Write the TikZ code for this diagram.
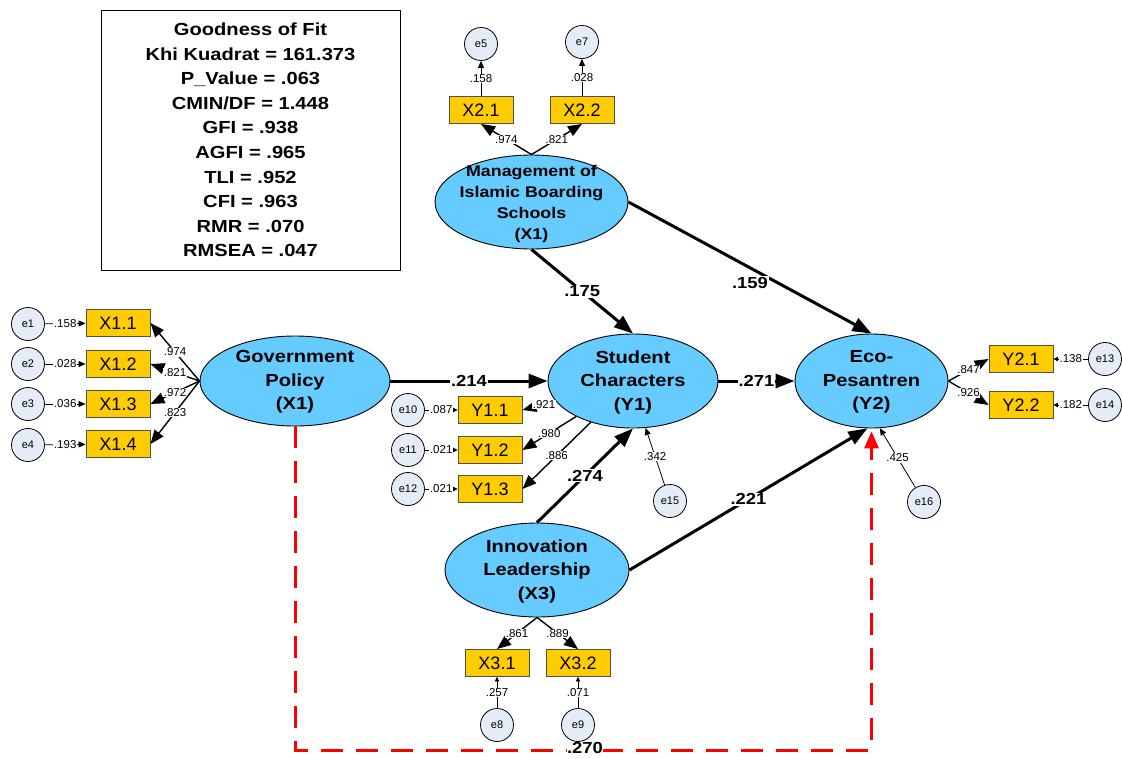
\documentclass[tikz,border=0pt]{standalone}
\usepackage{fontspec}
\setmainfont{Liberation Sans}
\newfontfamily\widefont[FakeStretch=1.15]{Liberation Sans}
\usetikzlibrary{shapes.geometric,arrows.meta,calc}
\definecolor{latentfill}{HTML}{66CCFF}
\definecolor{obsfill}{HTML}{FFCC00}
\definecolor{errfill}{HTML}{E6ECF7}
\definecolor{obsline}{HTML}{505050}
\definecolor{dashred}{HTML}{FF0000}
\begin{document}
\begin{tikzpicture}[x=1pt,y=-1pt,
  latent/.style={ellipse, draw=black, line width=0.9pt, fill=latentfill, inner sep=0pt},
  ltext/.style={align=center, inner sep=0pt, font=\widefont\bfseries\fontsize{17.5}{23.5}\selectfont},
  mtext/.style={align=center, inner sep=0pt, font=\widefont\bfseries\fontsize{15.5}{21.3}\selectfont},
  obs/.style={rectangle, draw=obsline, line width=0.9pt, fill=obsfill, minimum width=64pt, minimum height=27pt, inner sep=0pt, font=\fontsize{18}{18}\selectfont},
  err/.style={circle, draw=black, line width=0.8pt, fill=errfill, minimum size=33pt, inner sep=0pt, font=\fontsize{11}{11}\selectfont},
  regpath/.style={line width=3pt, -{Triangle[length=19pt,width=14pt]}},
  loadpath/.style={line width=1.4pt, -{Triangle[length=14pt,width=11pt]}},
  errpath/.style={line width=0.8pt, -{Triangle[length=7pt,width=6pt]}},
  errsmall/.style={line width=0.8pt, -{Triangle[length=4.5pt,width=4.5pt]}},
  plbl/.style={fill=white, inner sep=1pt, font=\widefont\bfseries\fontsize{16}{16}\selectfont},
  slbl/.style={fill=white, inner sep=0.6pt, font=\fontsize{11.5}{11.5}\selectfont},
  fitbox/.style={draw=black, line width=0.8pt, minimum width=299pt, minimum height=260pt, align=center, font=\widefont\bfseries\fontsize{17.5}{24.6}\selectfont}
]
\useasboundingbox (0,0) rectangle (1122,758);

% fit summary
\node[fitbox] (fit) at (250.5,140) {Goodness of Fit\\Khi Kuadrat = 161.373\\P\_Value = .063\\CMIN/DF = 1.448\\GFI = .938\\AGFI = .965\\TLI = .952\\CFI = .963\\RMR = .070\\RMSEA = .047};

% latent variables
\node[latent, minimum width=193pt, minimum height=94pt] (mgmt) at (531.5,202) {};
\node[mtext] (mgmtT) at (531.5,204) {Management of\\Islamic Boarding\\Schools\\(X1)};
\node[latent, minimum width=190pt, minimum height=90pt] (gov) at (295,381) {};
\node[ltext] (govT) at (295,382) {Government\\Policy\\(X1)};
\node[latent, minimum width=170pt, minimum height=94pt] (st) at (633,381) {};
\node[ltext] (stT) at (633,382) {Student\\Characters\\(Y1)};
\node[latent, minimum width=153pt, minimum height=94pt] (eco) at (871.5,381) {};
\node[ltext] (ecoT) at (871.5,382) {Eco-\\Pesantren\\(Y2)};
\node[latent, minimum width=184pt, minimum height=94pt] (inn) at (537,570) {};
\node[ltext] (innT) at (537,571) {Innovation\\Leadership\\(X3)};

% indicators
\node[obs] (x11) at (118,323) {X1.1};
\node[obs] (x12) at (118,364) {X1.2};
\node[obs] (x13) at (118,404) {X1.3};
\node[obs] (x14) at (118,444) {X1.4};
\node[obs] (x21) at (481,110) {X2.1};
\node[obs] (x22) at (582,110) {X2.2};
\node[obs] (y11) at (490,410) {Y1.1};
\node[obs] (y12) at (490,450) {Y1.2};
\node[obs] (y13) at (490,489) {Y1.3};
\node[obs] (y21) at (1021,359) {Y2.1};
\node[obs] (y22) at (1021,405) {Y2.2};
\node[obs] (x31) at (497,663) {X3.1};
\node[obs] (x32) at (578,663) {X3.2};

% error terms
\node[err] (e1) at (28,324) {e1};
\node[err] (e2) at (28,364) {e2};
\node[err] (e3) at (28,404) {e3};
\node[err] (e4) at (28,445) {e4};
\node[err] (e5) at (481,44) {e5};
\node[err] (e7) at (582,42) {e7};
\node[err] (e10) at (408,410) {e10};
\node[err] (e11) at (408,450) {e11};
\node[err] (e12) at (408,489) {e12};
\node[err] (e13) at (1105,359) {e13};
\node[err] (e14) at (1105,405) {e14};
\node[err] (e8) at (497,725) {e8};
\node[err] (e9) at (578,725) {e9};
\node[err] (e15) at (670,501) {e15};
\node[err] (e16) at (924,502) {e16};

% error paths
\draw[errpath] (e1) -- node[slbl]{.158} (x11);
\draw[errpath] (e2) -- node[slbl]{.028} (x12);
\draw[errpath] (e3) -- node[slbl]{.036} (x13);
\draw[errpath] (e4) -- node[slbl]{.193} (x14);
\draw[errpath] (x21) -- node[slbl]{.158} (e5);
\draw[errpath] (x22) -- node[slbl]{.028} (e7);
\draw[errsmall] (e10) -- node[slbl]{.087} (y11);
\draw[errsmall] (e11) -- node[slbl]{.021} (y12);
\draw[errsmall] (e12) -- node[slbl]{.021} (y13);
\draw[errsmall] (e13) -- node[slbl]{.138} (y21);
\draw[errsmall] (e14) -- node[slbl]{.182} (y22);
\draw[errsmall] (e8) -- node[slbl]{.257} (x31);
\draw[errsmall] (e9) -- node[slbl]{.071} (x32);
\draw[errpath] (e15) -- node[slbl]{.342} (st.-75);
\draw[errpath] (e16) -- node[slbl]{.425} (eco.-80);

% loadings
\draw[loadpath] (gov.west) -- node[slbl]{.974} (x11.east);
\draw[loadpath] (gov.west) -- node[slbl]{.821} (x12.east);
\draw[loadpath] (gov.west) -- node[slbl]{.972} (x13.east);
\draw[loadpath] (gov.west) -- node[slbl]{.823} (x14.east);
\draw[loadpath] (mgmt.north) -- node[slbl]{.974} (x21.south);
\draw[loadpath] (mgmt.north) -- node[slbl]{.821} (x22.south);
\draw[loadpath] (st) -- node[slbl, pos=0.35]{.921} (y11.east);
\draw[loadpath] (st) -- node[slbl]{.980} (y12.east);
\draw[loadpath] (st) -- node[slbl]{.886} (y13.east);
\draw[loadpath] (eco.east) -- node[slbl]{.847} (y21.west);
\draw[loadpath] (eco.east) -- node[slbl]{.926} (y22.west);
\draw[loadpath] (inn.south) -- node[slbl]{.861} (x31.north);
\draw[loadpath] (inn.south) -- node[slbl]{.889} (x32.north);

% structural paths
\draw[regpath] (mgmt.south) -- node[plbl]{.175} (st.north);
\draw[regpath] (mgmt.east) -- node[plbl, yshift=-15pt]{.159} (eco.north);
\draw[regpath] (gov.east) -- node[plbl]{.214} (st.west);
\draw[regpath] (st.east) -- node[plbl]{.271} (eco.west);
\draw[regpath] (inn.north) -- node[plbl]{.274} (st.south);
\draw[regpath] (inn.east) -- node[plbl]{.221} (eco.-95);

% direct effect of government policy on eco-pesantren
\coordinate (dl) at (gov.south |- 0,750);
\coordinate (dr) at (eco.south |- 0,750);
\draw[dashred, line width=3pt, dash pattern=on 22pt off 13pt, -{Triangle[length=17pt,width=14pt]}]
  (gov.south) -- (dl) -- (dr) -- ($(eco.south)+(0,3)$);
\node[plbl, inner sep=0.5pt] (dlbl) at (585,748) {.270};
\end{tikzpicture}
\end{document}
